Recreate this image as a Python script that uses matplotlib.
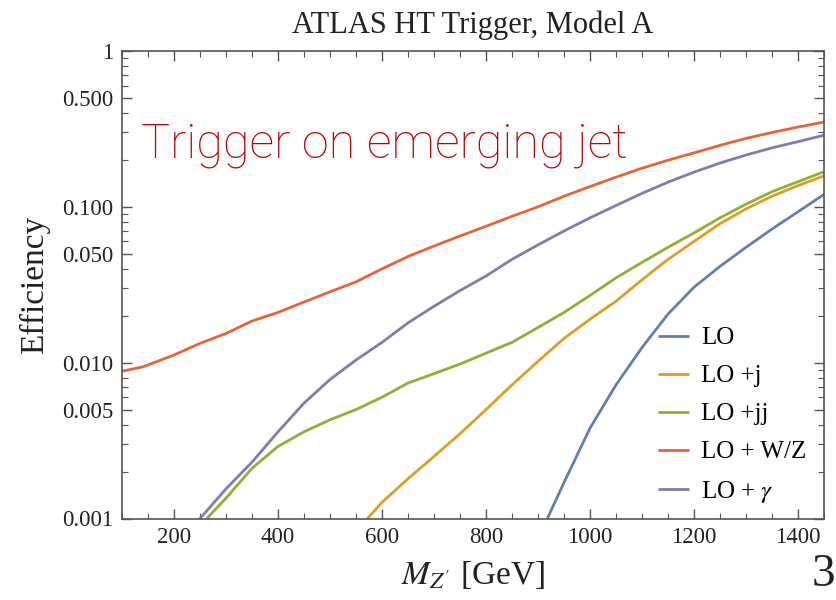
import numpy as np
import matplotlib
matplotlib.use("Agg")
import matplotlib.pyplot as plt
from matplotlib.ticker import FixedLocator, NullFormatter, MultipleLocator

plt.rcParams['font.family'] = ['Liberation Serif', 'DejaVu Serif']
plt.rcParams['mathtext.fontset'] = 'stix'

# M_Z' [GeV] and efficiency
x_lo = [918, 950, 1000, 1050, 1100, 1150, 1200, 1250, 1300, 1350, 1400, 1450]
y_lo = [0.001, 0.0017, 0.0038, 0.0072, 0.0125, 0.0205, 0.0305, 0.0415, 0.055, 0.072, 0.093, 0.12]

x_j = [572, 600, 650, 700, 750, 800, 850, 900, 950, 1000, 1050, 1100, 1150, 1200, 1250, 1300, 1350, 1400, 1450]
y_j = [0.001, 0.00127, 0.0018, 0.0025, 0.0035, 0.0050, 0.0072, 0.0102, 0.0143, 0.019, 0.0248, 0.034,
       0.046, 0.060, 0.078, 0.097, 0.117, 0.137, 0.158]

x_jj = [263, 300, 350, 400, 450, 500, 550, 600, 650, 700, 750, 800, 850, 900, 950, 1000, 1050, 1100,
        1150, 1200, 1250, 1300, 1350, 1400, 1450]
y_jj = [0.001, 0.00135, 0.0021, 0.0029, 0.0036, 0.0043, 0.005, 0.006, 0.0074, 0.0085, 0.0098, 0.0115,
        0.0135, 0.0168, 0.021, 0.027, 0.035, 0.044, 0.055, 0.068, 0.085, 0.104, 0.125, 0.145, 0.168]

x_wz = [100, 140, 200, 250, 300, 350, 400, 450, 500, 550, 600, 650, 700, 750, 800, 850, 900, 950,
        1000, 1050, 1100, 1150, 1200, 1250, 1300, 1350, 1400, 1450]
y_wz = [0.0088, 0.0094, 0.0112, 0.0133, 0.0154, 0.0185, 0.021, 0.0245, 0.0285, 0.033, 0.040, 0.048,
        0.056, 0.065, 0.075, 0.087, 0.100, 0.117, 0.135, 0.155, 0.177, 0.199, 0.222, 0.248, 0.275,
        0.300, 0.325, 0.350]

x_gam = [250, 300, 350, 400, 450, 500, 550, 600, 650, 700, 750, 800, 850, 900, 950, 1000, 1050, 1100,
         1150, 1200, 1250, 1300, 1350, 1400, 1450]
y_gam = [0.001, 0.00155, 0.0023, 0.0036, 0.0055, 0.0078, 0.0104, 0.0135, 0.018, 0.023, 0.029, 0.036,
         0.046, 0.057, 0.070, 0.085, 0.102, 0.122, 0.144, 0.167, 0.191, 0.215, 0.239, 0.262, 0.288]

labels = ["LO", "LO +j", "LO +jj", "LO + W/Z", r"LO + $\gamma$"]
colors = ["#5E81B5", "#E19C24", "#8FB032", "#EB6235", "#8778B3"]

y_major = [0.001, 0.005, 0.01, 0.05, 0.1, 0.5, 1]
y_major_lbl = ["0.001", "0.005", "0.010", "0.050", "0.100", "0.500", "1"]

fig = plt.figure(figsize=(8.37, 6.0), dpi=100)
ax = fig.add_axes([122/837, 1 - 518.5/600, (824 - 122)/837, (518.5 - 51)/600])

series = [(x_lo, y_lo), (x_j, y_j), (x_jj, y_jj), (x_wz, y_wz), (x_gam, y_gam)]
for (xs, ys), lab, c in zip(series, labels, colors):
    ax.plot(xs, ys, color=c, lw=2.0, label=lab, solid_capstyle='butt', solid_joinstyle='round')

ax.set_yscale('log')
ax.set_xlim(100, 1450)
ax.set_ylim(0.001, 1)

ax.xaxis.set_major_locator(MultipleLocator(200))
ax.xaxis.set_minor_locator(MultipleLocator(50))
ax.yaxis.set_major_locator(FixedLocator(y_major))
ax.set_yticklabels(y_major_lbl)
minors = [m * d for d in [0.001, 0.01, 0.1] for m in [2, 3, 4, 6, 7, 8, 9]]
ax.yaxis.set_minor_locator(FixedLocator(minors))
ax.yaxis.set_minor_formatter(NullFormatter())

ax.tick_params(which='both', direction='in', top=True, right=True, color='#555555',
               labelsize=16.5, labelcolor='#222222', pad=6)
ax.tick_params(which='major', length=7, width=1)
ax.tick_params(which='minor', length=4, width=0.8)
for sp in ax.spines.values():
    sp.set_color('#555555')
    sp.set_linewidth(1.2)

ax.set_title("ATLAS HT Trigger, Model A", fontsize=22, color='#222222', pad=13)
ax.set_ylabel("Efficiency", fontsize=24, color='#222222', labelpad=9)
ax.set_xlabel(r"$M_{Z'}$ [GeV]", fontsize=24, color='#222222', labelpad=8)

ax.legend(loc='lower right', bbox_to_anchor=(0.995, 0.0), frameon=False, fontsize=18,
          handlelength=1.25, handletextpad=0.5, labelspacing=0.62, borderpad=0.05)

fig.text(141/837, 1 - 158/600, "Trigger on emerging jet", color='#C00000', fontsize=35,
         family=['Roboto', 'DejaVu Sans'], fontweight='light', va='baseline')
fig.text(835/837, 1 - 596/600, "3", fontsize=34, color='#222222', va='bottom', ha='right')

fig.savefig("out.png", dpi=100)
